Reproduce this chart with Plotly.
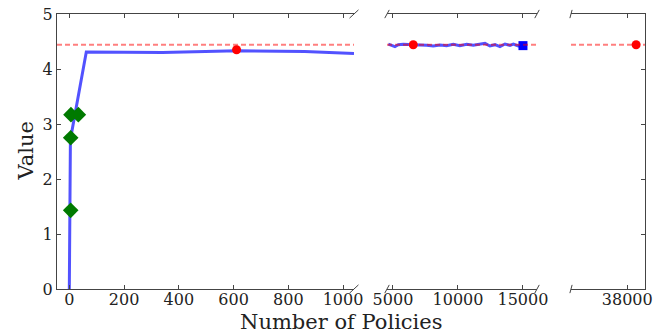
import plotly.graph_objects as go

# ---- data ----
best_value = 4.44

p1_x = [0, 4, 62, 340, 615, 860, 1040]
p1_y = [0, 2.72, 4.31, 4.30, 4.33, 4.32, 4.28]

diam_x = [5, 5, 6, 33]
diam_y = [1.43, 2.75, 3.17, 3.17]

dot1_x = [611]
dot1_y = [4.35]

p2_x = [4640, 4900, 5150, 5410, 5790, 6560, 7080, 7590, 8100, 8620, 9130, 9640,
        10150, 10670, 11180, 11690, 12080, 12460, 12850, 13230, 13620, 14000,
        14260, 14640, 15000]
p2_y = [4.454, 4.430, 4.406, 4.442, 4.448, 4.442, 4.442, 4.430, 4.418, 4.436,
        4.424, 4.448, 4.424, 4.448, 4.430, 4.448, 4.466, 4.418, 4.442, 4.406,
        4.454, 4.430, 4.454, 4.418, 4.424]

dot2_x = [6560]
dot2_y = [4.44]
sq_x = [15000]
sq_y = [4.425]

dot3_x = [38600]
dot3_y = [4.44]

p1_ticks = [0, 200, 400, 600, 800, 1000]
p2_ticks = [5000, 10000, 15000]
p3_ticks = [38000]
y_ticks = [0, 1, 2, 3, 4, 5]

# ---- styling ----
W, H = 669, 333
ML, MR, MT, MB = 57, 24, 14, 44
PW = W - ML - MR
PH = H - MT - MB
FONT = "DejaVu Serif"
AX = "#444"
BLUE = "rgba(0,0,255,0.68)"
RED = "rgba(255,0,0,0.5)"

def px2x(px):
    return (px - ML) / PW

def py2y(py):
    return (H - MB - py) / PH

p1 = (57, 354)
p2 = (387, 537)
p3 = (571, 645)
dom1 = [px2x(p1[0]), px2x(p1[1])]
dom2 = [px2x(p2[0]), px2x(p2[1])]
dom3 = [px2x(p3[0]), px2x(p3[1])]

fig = go.Figure()

fig.add_trace(go.Scatter(x=p1_x, y=p1_y, mode="lines", xaxis="x", yaxis="y",
                         line=dict(color=BLUE, width=3), showlegend=False))
fig.add_trace(go.Scatter(x=diam_x, y=diam_y, mode="markers", xaxis="x", yaxis="y",
                         marker=dict(symbol="diamond", size=12, color="#007a00"),
                         showlegend=False))
fig.add_trace(go.Scatter(x=dot1_x, y=dot1_y, mode="markers", xaxis="x", yaxis="y",
                         marker=dict(symbol="circle", size=9, color="red"),
                         showlegend=False))

fig.add_trace(go.Scatter(x=p2_x, y=p2_y, mode="lines", xaxis="x2", yaxis="y",
                         line=dict(color=BLUE, width=3), showlegend=False))
fig.add_trace(go.Scatter(x=dot2_x, y=dot2_y, mode="markers", xaxis="x2", yaxis="y",
                         marker=dict(symbol="circle", size=9, color="red"),
                         showlegend=False))
fig.add_trace(go.Scatter(x=sq_x, y=sq_y, mode="markers", xaxis="x2", yaxis="y",
                         marker=dict(symbol="square", size=9, color="blue"),
                         showlegend=False))

fig.add_trace(go.Scatter(x=dot3_x, y=dot3_y, mode="markers", xaxis="x3", yaxis="y2",
                         marker=dict(symbol="circle", size=9, color="red"),
                         showlegend=False))

# dashed best-value line in each panel
shapes = []
for xr in ["x domain", "x2 domain", "x3 domain"]:
    shapes.append(dict(type="line", xref=xr, x0=0, x1=1, yref="y",
                       y0=best_value, y1=best_value, layer="above",
                       line=dict(color=RED, width=2, dash="5px,3px")))

# break marks
def brk(xc_px, yc_px, panel_w):
    dx = 0.015 * panel_w
    dy = 0.015 * PH
    return dict(type="line", xref="paper", yref="paper",
                x0=px2x(xc_px - dx), x1=px2x(xc_px + dx),
                y0=py2y(yc_px + dy), y1=py2y(yc_px - dy),
                line=dict(color=AX, width=1))

top_px, bot_px = MT, H - MB
w1 = p1[1] - p1[0]
w2 = p2[1] - p2[0]
w3 = p3[1] - p3[0]
for ypx in (top_px, bot_px):
    shapes.append(brk(p1[1], ypx, w1))
    shapes.append(brk(p2[0], ypx, w2))
    shapes.append(brk(p2[1], ypx, w2))
    shapes.append(brk(p3[0], ypx, w3))

xcommon = dict(showline=True, linecolor=AX, linewidth=1, mirror="ticks",
               ticks="inside", ticklen=4, tickcolor=AX, showgrid=False,
               zeroline=False, tickfont=dict(family=FONT, size=16, color="#222"),
               anchor="y", automargin=False, ticklabelstandoff=-4)

fig.update_layout(
    width=W, height=H,
    margin=dict(l=ML, r=MR, t=MT, b=MB, pad=0),
    plot_bgcolor="white", paper_bgcolor="white",
    xaxis=dict(domain=dom1, range=[-45, 1040], tickvals=p1_ticks,
               ticktext=[str(v) for v in p1_ticks], **xcommon),
    xaxis2=dict(domain=dom2, range=[4540, 16080], tickvals=p2_ticks,
                ticktext=[str(v) for v in p2_ticks], **xcommon),
    xaxis3=dict(domain=dom3, range=[34200, 39200], tickvals=p3_ticks,
                ticktext=[str(v) for v in p3_ticks], **xcommon),
    yaxis=dict(domain=[0, 1], range=[0, 5], anchor="x", tickvals=y_ticks,
               showline=True, linecolor=AX, linewidth=1, ticks="inside",
               ticklen=4, tickcolor=AX, showgrid=False, zeroline=False,
               automargin=False,
               tickfont=dict(family=FONT, size=16, color="#222")),
    yaxis2=dict(range=[0, 5], anchor="x3", overlaying="y", side="right",
                tickvals=y_ticks, showticklabels=False, showline=True,
                linecolor=AX, linewidth=1, ticks="inside", ticklen=4,
                tickcolor=AX, showgrid=False, zeroline=False, automargin=False),
    shapes=shapes,
    annotations=[
        dict(text="Value", xref="paper", yref="paper", x=px2x(25), y=0.5,
             xanchor="center", yanchor="middle",
             textangle=-90, showarrow=False,
             font=dict(family=FONT, size=21, color="#222")),
        dict(text="Number of Policies", xref="paper", yref="paper",
             x=px2x(341), y=py2y(322), xanchor="center", yanchor="middle",
             showarrow=False,
             font=dict(family=FONT, size=21, color="#222")),
    ],
)

fig.write_html("out.html", config={"displayModeBar": False},
               post_script="document.body.style.margin='0';")
